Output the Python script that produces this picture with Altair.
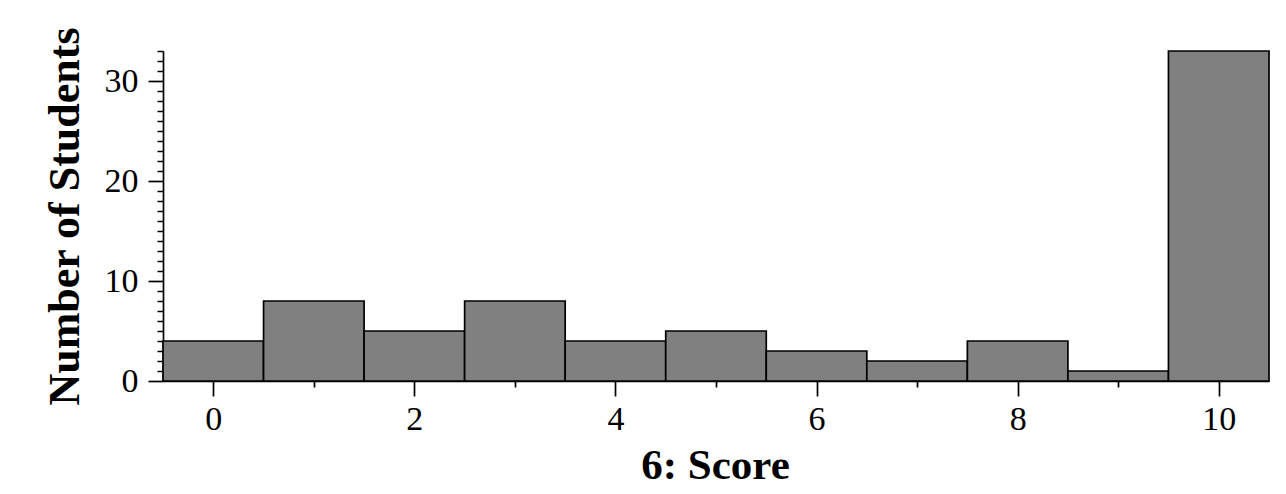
import altair as alt
import pandas as pd

scores = [0, 1, 2, 3, 4, 5, 6, 7, 8, 9, 10]
counts = [4, 8, 5, 8, 4, 5, 3, 2, 4, 1, 33]
x_major = [0, 2, 4, 6, 8, 10]
x_minor = [1, 3, 5, 7, 9]
y_major = [0, 10, 20, 30]
y_minor = [v for v in range(0, 34) if v % 10 != 0]

df = pd.DataFrame({"score": scores, "count": counts})
FONT = "Liberation Serif"

base = alt.Chart(df).transform_calculate(
    lo="datum.score - 0.5", hi="datum.score + 0.5"
)

xscale = alt.Scale(domain=[-0.5, 10.5], nice=False, zero=False)
yscale = alt.Scale(domain=[0, 33], nice=False)

bars = base.mark_rect(fill="#808080", stroke="black", strokeWidth=1.7).encode(
    x=alt.X(
        "lo:Q", scale=xscale,
        axis=alt.Axis(
            orient="bottom", values=x_major, tickSize=15, tickWidth=1.7,
            domainWidth=1.7, domainColor="black", tickColor="black",
            labelFont=FONT, labelFontSize=34, labelColor="black", labelPadding=6,
            title="6: Score", titleFont=FONT, titleFontSize=43,
            titleFontWeight="bold", titleColor="black",
            titleX=552, titleY=97, titleBaseline="alphabetic", grid=False,
        ),
    ),
    x2="hi:Q",
    y=alt.Y(
        "count:Q", scale=yscale,
        axis=alt.Axis(
            orient="left", values=y_major, tickSize=15, tickWidth=1.7,
            domainWidth=1.7, domainColor="black", tickColor="black",
            labelFont=FONT, labelFontSize=34, labelColor="black", labelPadding=10,
            title="Number of Students", titleFont=FONT, titleFontSize=44,
            titleFontWeight="bold", titleColor="black", titleAngle=270,
            titleX=-85, titleY=165, titleAlign="center",
            titleBaseline="alphabetic", grid=False,
        ),
    ),
    y2=alt.datum(0),
)

minor = base.mark_rect(opacity=0).encode(
    x=alt.X(
        "lo:Q", scale=xscale,
        axis=alt.Axis(
            orient="bottom", values=x_minor, tickSize=6, tickWidth=1.7,
            tickColor="black", labels=False, domain=False, title=None, grid=False,
        ),
    ),
    x2="hi:Q",
    y=alt.Y(
        "count:Q", scale=yscale,
        axis=alt.Axis(
            orient="left", values=y_minor, tickSize=6, tickWidth=1.5,
            tickColor="black", labels=False, domain=False, title=None, grid=False,
        ),
    ),
    y2=alt.datum(0),
)

chart = (
    alt.layer(bars, minor)
    .resolve_axis(x="independent", y="independent")
    .properties(
        width=1106, height=330, autosize="none",
        padding={"left": 155, "top": 43, "right": 9, "bottom": 105},
        background="white",
    )
    .configure_view(strokeWidth=0)
)

chart.save("out.html", embed_options={"renderer": "svg", "actions": False})
